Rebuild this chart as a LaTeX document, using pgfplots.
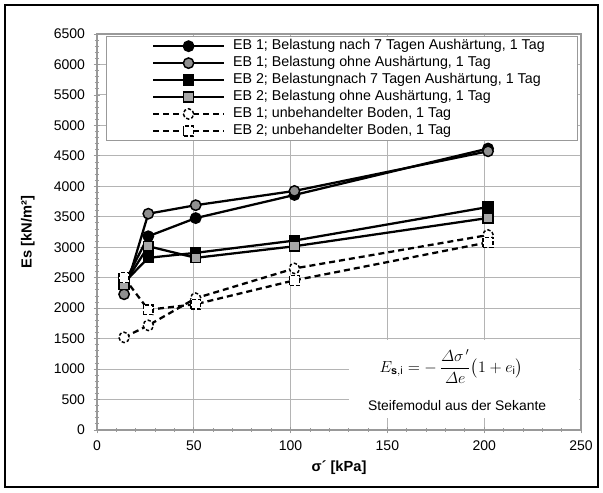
\documentclass[border=0pt]{standalone}
\usepackage{pgfplots}
\pgfplotsset{compat=1.18}
\usepackage{amsmath}
\usepackage{fontspec}
\setmainfont{Liberation Sans}
\definecolor{gcirc}{HTML}{8F8F8F}
\definecolor{gsq}{HTML}{A8A8A8}
\definecolor{gridc}{HTML}{B4B4B4}
\begin{document}
\begin{tikzpicture}[font=\fontsize{10.5}{12}\selectfont]
\begin{axis}[
 scale only axis, width=363pt, height=297pt,
 xmin=0, xmax=250, ymin=0, ymax=6500,
 xtick distance=50, ytick distance=500,
 minor x tick num=4, minor y tick num=4,
 grid=major, major grid style={gridc, line width=0.8pt},
 axis line style={gray!80, line width=0.8pt},
 tick style={gray!80, line width=0.6pt},
 major tick length=5pt, minor tick length=3pt,
 tick align=center,
 xtick pos=bottom, ytick pos=left,
 /pgf/number format/assume math mode=true,
 /pgf/number format/1000 sep={},
 xticklabel style={yshift=-2pt},
 yticklabel style={xshift=-3pt},
 xlabel={\bfseries\fontsize{11}{13}\selectfont σ´ [kPa]},
 ylabel={\bfseries\fontsize{11}{13}\selectfont Es [kN/m²]},
 xlabel style={at={(rel axis cs:0.5,-0.096)}, anchor=center},
 ylabel style={at={(rel axis cs:-0.143,0.5)}, anchor=center},
 clip=false,
 legend cell align=left,
 legend style={at={(rel axis cs:0.018,0.995)}, anchor=north west, draw=gray!80, fill=white,
   line width=0.6pt, inner xsep=2pt, inner ysep=1pt, row sep=0pt,
   nodes={inner xsep=0pt, inner ysep=1.6pt, text height=7.3pt, text depth=2.2pt},
   font=\fontsize{10.7}{12}\selectfont},
 legend image code/.code={
   \path (0pt,0pt) (91.5pt,0pt);
   \draw[#1] (32.5pt,0pt) -- (85.5pt,0pt);
   \draw[#1] plot coordinates {(59pt,0pt)};
 },
]
% white area behind the formula
\addplot[fill=white, draw=none, forget plot] coordinates {(130,200) (249.2,200) (249.2,1475) (130,1475)};

\addplot[black, line width=1.7pt, mark=*, mark size=3.9pt, mark options={solid, fill=black, draw=black, line width=1.1pt}]
 coordinates {(14,2400) (26.5,3180) (51,3478) (102,3858) (202,4620)};
\addlegendentry{\makebox[256pt][l]{EB 1; Belastung nach 7 Tagen Aushärtung, 1 Tag}}
\addplot[black, line width=1.7pt, mark=*, mark size=3.9pt, mark options={solid, fill=gcirc, draw=black, line width=1.1pt}]
 coordinates {(14,2228) (26.5,3550) (51,3690) (102,3924) (202,4575)};
\addlegendentry{EB 1; Belastung ohne Aushärtung, 1 Tag}
\addplot[black, line width=1.7pt, mark=square*, mark size=3.7pt, mark options={solid, fill=black, draw=black, line width=1.1pt}]
 coordinates {(14,2420) (26.5,2826) (51,2908) (102,3109) (202,3660)};
\addlegendentry{EB 2; Belastungnach 7 Tagen Aushärtung, 1 Tag}
\addplot[black, line width=1.7pt, mark=square*, mark size=3.7pt, mark options={solid, fill=gsq, draw=black, line width=1.1pt}]
 coordinates {(14,2390) (26.5,3016) (51,2826) (102,3016) (202,3480)};
\addlegendentry{EB 2; Belastung ohne Aushärtung, 1 Tag}
\addplot[black, line width=1.7pt, dash pattern=on 4.5pt off 3pt, mark=*, mark size=3.9pt, mark options={solid, fill=white, draw=black, line width=1.1pt, dash pattern=on 2.5pt off 1.5pt}]
 coordinates {(14,1520) (26.5,1717) (51,2163) (102,2652) (202,3200)};
\addlegendentry{EB 1; unbehandelter Boden, 1 Tag}
\addplot[black, line width=1.7pt, dash pattern=on 4.5pt off 3pt, mark=square*, mark size=3.7pt, mark options={solid, fill=white, draw=black, line width=1.1pt, dash pattern=on 3pt off 1.5pt}]
 coordinates {(14,2500) (26.5,1973) (51,2065) (102,2457) (202,3080)};
\addlegendentry{EB 2; unbehandelter Boden, 1 Tag}

\node at (axis cs:183,1040) {\fontsize{11.5}{14}\selectfont $E_{\mathbf{s},\mathrm{i}} = -\,\dfrac{\varDelta\sigma^{\,\prime}}{\varDelta e}\bigl(1+e_{\mathrm{i}}\bigr)$};
\node at (axis cs:186,405) {\fontsize{10.4}{12}\selectfont Steifemodul aus der Sekante};

\draw[black, line width=1.2pt] (rel axis cs:-0.1901,-0.1439) rectangle (rel axis cs:1.0351,1.0732);
\path (rel axis cs:-0.2004,-0.1566) (rel axis cs:1.0455,1.0859);
\end{axis}
\end{tikzpicture}
\end{document}
